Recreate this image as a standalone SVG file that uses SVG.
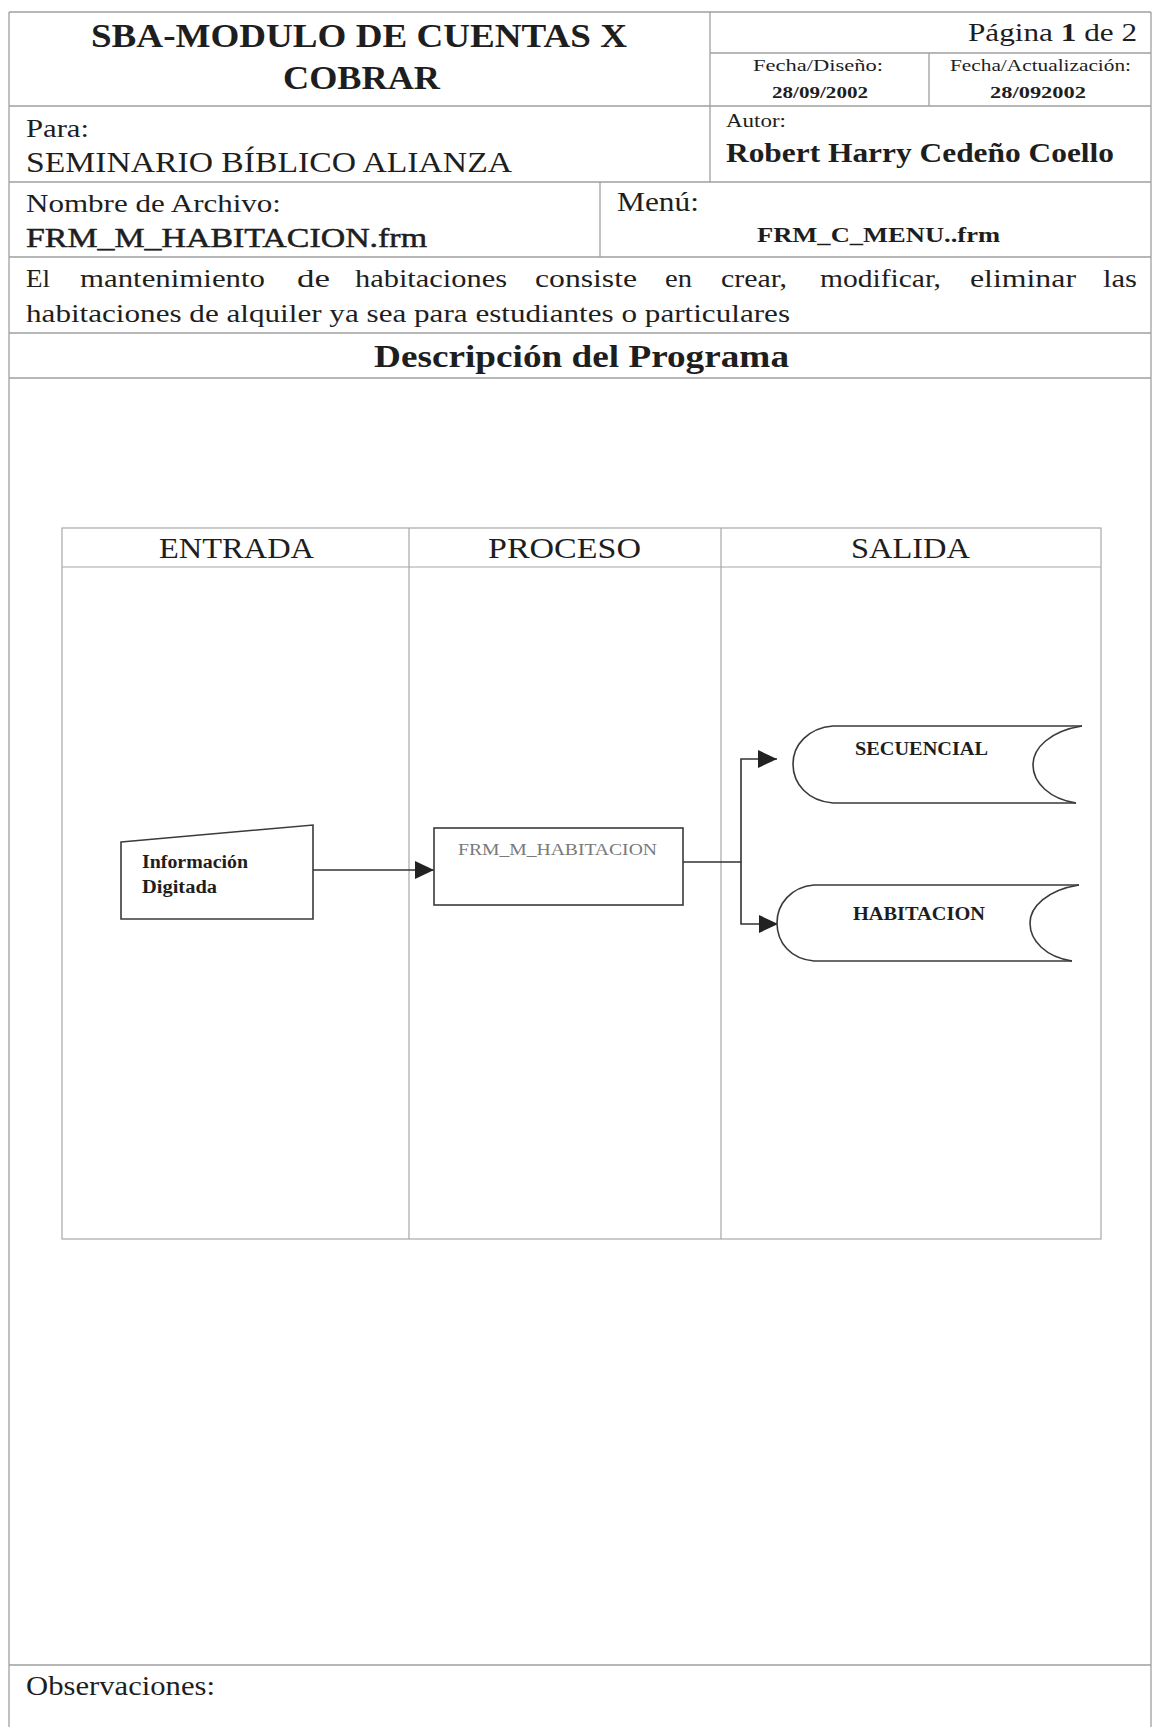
<svg xmlns="http://www.w3.org/2000/svg" width="1153" height="1727" viewBox="0 0 1153 1727">
<style>
.t{font-family:"Liberation Serif","Times New Roman",serif;fill:#1e1e1e}
.b{font-weight:bold}
.grid{stroke:#a0a0a0;stroke-width:1.3;fill:none}
.lane{stroke:#a8a8a8;stroke-width:1.2;fill:none}
.shape{stroke:#3a3a3a;stroke-width:1.6;fill:#fff}
.conn{stroke:#333;stroke-width:1.6;fill:none}
</style>
<defs>
<marker id="arr" markerUnits="userSpaceOnUse" markerWidth="20" markerHeight="18" refX="19" refY="9" orient="auto">
<path d="M0,0 L19,9 L0,18 z" fill="#222"/>
</marker>
</defs>
<rect width="1153" height="1727" fill="#fff"/>

<g id="form-grid">
<path class="grid" d="M9,12 H1151 M9,12 V1727 M1151,12 V1727 M710,53 H1151 M9,106 H1151 M9,182 H1151 M9,257 H1151 M9,333 H1151 M9,378 H1151 M9,1665 H1151 M710,12 V182 M929,53 V106 M600,182 V257"/>
</g>

<g id="form-texts">
<text class="t b" x="91" y="47" font-size="34" textLength="536" lengthAdjust="spacingAndGlyphs">SBA-MODULO DE CUENTAS X</text>
<text class="t b" x="283" y="89" font-size="34" textLength="157" lengthAdjust="spacingAndGlyphs">COBRAR</text>
<text class="t" x="968" y="41" font-size="26" textLength="169" lengthAdjust="spacingAndGlyphs">Página <tspan font-weight="bold">1</tspan> de 2</text>
<text class="t" x="753" y="71" font-size="16" textLength="130" lengthAdjust="spacingAndGlyphs">Fecha/Diseño:</text>
<text class="t b" x="772" y="98" font-size="16" textLength="96" lengthAdjust="spacingAndGlyphs">28/09/2002</text>
<text class="t" x="950" y="71" font-size="16" textLength="181" lengthAdjust="spacingAndGlyphs">Fecha/Actualización:</text>
<text class="t b" x="990" y="98" font-size="16" textLength="96" lengthAdjust="spacingAndGlyphs">28/092002</text>
<text class="t" x="26" y="137" font-size="26" textLength="63" lengthAdjust="spacingAndGlyphs">Para:</text>
<text class="t" x="26" y="172" font-size="29" textLength="486" lengthAdjust="spacingAndGlyphs">SEMINARIO BÍBLICO ALIANZA</text>
<text class="t" x="726" y="127" font-size="19" textLength="60" lengthAdjust="spacingAndGlyphs">Autor:</text>
<text class="t b" x="726" y="162" font-size="27" textLength="388" lengthAdjust="spacingAndGlyphs">Robert Harry Cedeño Coello</text>
<text class="t" x="26" y="212" font-size="26" textLength="255" lengthAdjust="spacingAndGlyphs">Nombre de Archivo:</text>
<text class="t" x="26" y="247" font-size="28" textLength="401" lengthAdjust="spacingAndGlyphs" stroke="#1e1e1e" stroke-width="0.5">FRM_M_HABITACION.frm</text>
<text class="t" x="617" y="211" font-size="27" textLength="82" lengthAdjust="spacingAndGlyphs">Menú:</text>
<text class="t b" x="757" y="242" font-size="21" textLength="243" lengthAdjust="spacingAndGlyphs">FRM_C_MENU..frm</text>
<text class="t" x="26" y="287" font-size="25" textLength="24" lengthAdjust="spacingAndGlyphs">El</text>
<text class="t" x="80" y="287" font-size="25" textLength="185" lengthAdjust="spacingAndGlyphs">mantenimiento</text>
<text class="t" x="297" y="287" font-size="25" textLength="33" lengthAdjust="spacingAndGlyphs">de</text>
<text class="t" x="355" y="287" font-size="25" textLength="152" lengthAdjust="spacingAndGlyphs">habitaciones</text>
<text class="t" x="535" y="287" font-size="25" textLength="102" lengthAdjust="spacingAndGlyphs">consiste</text>
<text class="t" x="665" y="287" font-size="25" textLength="27" lengthAdjust="spacingAndGlyphs">en</text>
<text class="t" x="721" y="287" font-size="25" textLength="66" lengthAdjust="spacingAndGlyphs">crear,</text>
<text class="t" x="820" y="287" font-size="25" textLength="121" lengthAdjust="spacingAndGlyphs">modificar,</text>
<text class="t" x="970" y="287" font-size="25" textLength="106" lengthAdjust="spacingAndGlyphs">eliminar</text>
<text class="t" x="1103" y="287" font-size="25" textLength="34" lengthAdjust="spacingAndGlyphs">las</text>
<text class="t" x="26" y="322" font-size="25" textLength="764" lengthAdjust="spacingAndGlyphs">habitaciones de alquiler ya sea para estudiantes o particulares</text>
<text class="t b" x="374" y="367" font-size="32" textLength="415" lengthAdjust="spacingAndGlyphs">Descripción del Programa</text>
<text class="t" x="26" y="1695" font-size="28" textLength="189" lengthAdjust="spacingAndGlyphs">Observaciones:</text>
</g>

<g id="swimlanes">
<rect class="lane" x="62" y="528" width="1039" height="711"/>
<path class="lane" d="M62,567 H1101 M409,528 V1239 M721,528 V1239"/>
<text class="t" x="159" y="558" font-size="30" textLength="155" lengthAdjust="spacingAndGlyphs">ENTRADA</text>
<text class="t" x="488" y="558" font-size="30" textLength="153" lengthAdjust="spacingAndGlyphs">PROCESO</text>
<text class="t" x="851" y="558" font-size="30" textLength="119" lengthAdjust="spacingAndGlyphs">SALIDA</text>
</g>

<g id="connectors">
<path class="conn" d="M313,870 H434" marker-end="url(#arr)"/>
<path class="conn" d="M683,862 H741 V759 H777" marker-end="url(#arr)"/>
<path class="conn" d="M741,862 V924 H778" marker-end="url(#arr)"/>
</g>

<g id="node-informacion">
<polygon class="shape" points="121,842 313,825 313,919 121,919"/>
<text class="t b" x="142" y="868" font-size="18" textLength="106" lengthAdjust="spacingAndGlyphs">Información</text>
<text class="t b" x="142" y="893" font-size="18" textLength="75" lengthAdjust="spacingAndGlyphs">Digitada</text>
</g>

<g id="node-frm">
<rect class="shape" x="434" y="828" width="249" height="77"/>
<text class="t" x="458" y="855" font-size="16" textLength="199" lengthAdjust="spacingAndGlyphs" style="fill:#7a7a7a">FRM_M_HABITACION</text>
</g>

<g id="node-secuencial">
<path class="shape" d="M1082,726 H833 C808,728 793,745 793,764 C793,784 808,801 833,803 H1076"/>
<path class="shape" style="fill:none" d="M1082,726 C1050,731 1033,748 1033,765 C1033,783 1050,799 1076,803"/>
<text class="t b" x="855" y="755" font-size="18" textLength="133" lengthAdjust="spacingAndGlyphs">SECUENCIAL</text>
</g>

<g id="node-habitacion">
<path class="shape" d="M1079,885 H814 C791,887 777,904 777,923 C777,943 791,959 814,961 H1072"/>
<path class="shape" style="fill:none" d="M1079,885 C1047,890 1030,907 1030,923 C1030,941 1046,957 1072,961"/>
<text class="t b" x="853" y="920" font-size="18" textLength="132" lengthAdjust="spacingAndGlyphs">HABITACION</text>
</g>
</svg>
